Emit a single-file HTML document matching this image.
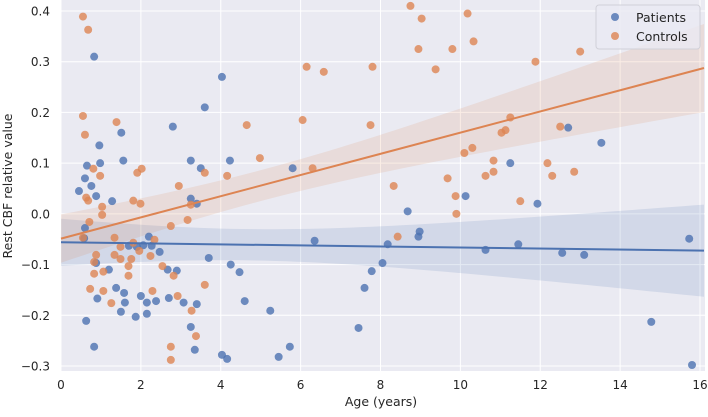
<!DOCTYPE html>
<html><head><meta charset="utf-8"><style>
body{margin:0;background:#fff;font-family:"Liberation Sans","DejaVu Sans",sans-serif;}
svg text{font-family:"DejaVu Sans","Liberation Sans",sans-serif;}
</style></head><body>
<svg id="chart" width="708" height="412" xmlns="http://www.w3.org/2000/svg">
<rect x="61" y="0" width="644" height="371" fill="#eaeaf2"/>
<g id="grid"></g>
<g id="bands"></g>
<g id="pts"></g>
<g id="lines"></g>
<g id="ticks"></g>
<text x="381" y="406" font-size="12.5" fill="#262626" text-anchor="middle">Age (years)</text>
<text transform="translate(12,186) rotate(-90)" font-size="12.5" fill="#262626" text-anchor="middle">Rest CBF relative value</text>
<g>
<rect x="596" y="5" width="104" height="44" rx="3" fill="#eaeaf2" fill-opacity="0.8" stroke="#d0d0d8"/>
<circle cx="615" cy="17" r="4" fill="#4c72b0" fill-opacity="0.8"/>
<text x="636" y="22" font-size="12.5" fill="#262626">Patients</text>
<circle cx="615" cy="36" r="4" fill="#dd8452" fill-opacity="0.8"/>
<text x="636" y="41" font-size="12.5" fill="#262626">Controls</text>
</g>
</svg>
<script>
const xTicks=[0,2,4,6,8,10,12,14,16];
const yTicks=[0.4,0.3,0.2,0.1,0.0,-0.1,-0.2,-0.3];
const yTickLabels=["0.4","0.3","0.2","0.1","0.0","\u22120.1","\u22120.2","\u22120.3"];
const patientAge=[0.83,4.03,3.6,1.51,0.96,1.56,3.25,4.23,0.65,0.98,0.45,0.6,0.76,0.88,1.28,3.5,3.25,3.4,5.8,8.68,8.98,8.95,10.13,11.25,11.93,12.7,13.53,6.35,8.18,0.6,0.58,2.2,2.27,2.47,2.06,1.7,1.9,3.7,4.25,4.47,0.88,1.2,2.67,2.9,7.78,8.05,7.6,1.38,1.58,1.6,0.91,2.0,2.15,2.38,2.7,3.07,3.4,1.5,1.87,2.15,4.6,5.24,0.63,3.25,7.45,0.83,3.35,4.03,4.16,5.45,5.73,10.63,11.45,12.55,13.1,14.78,15.73,15.8,2.8];
const patientVal=[0.31,0.27,0.21,0.16,0.135,0.105,0.105,0.105,0.095,0.10,0.045,0.07,0.055,0.035,0.025,0.09,0.03,0.02,0.09,0.005,-0.035,-0.045,0.035,0.10,0.02,0.17,0.14,-0.053,-0.06,-0.028,-0.048,-0.045,-0.063,-0.075,-0.062,-0.063,-0.065,-0.087,-0.1,-0.115,-0.097,-0.11,-0.11,-0.112,-0.113,-0.097,-0.146,-0.146,-0.156,-0.175,-0.167,-0.162,-0.175,-0.172,-0.166,-0.175,-0.178,-0.193,-0.203,-0.197,-0.172,-0.191,-0.211,-0.223,-0.225,-0.262,-0.268,-0.278,-0.286,-0.282,-0.262,-0.071,-0.06,-0.077,-0.081,-0.213,-0.049,-0.298,0.172];
const controlAge=[0.55,0.68,0.55,0.6,1.39,0.81,0.98,1.91,2.02,2.95,3.6,4.16,0.63,0.68,1.03,1.03,0.71,0.55,1.34,1.49,1.81,1.99,1.81,1.96,2.34,2.24,1.34,1.49,1.76,1.69,1.69,0.88,0.83,0.83,1.06,0.73,1.06,1.26,2.29,2.54,2.82,2.92,3.27,3.38,2.75,2.75,3.6,2.75,3.17,3.25,4.65,4.98,6.05,6.15,6.3,6.58,7.75,7.8,8.33,8.43,8.75,9.03,8.95,9.38,9.68,9.8,9.88,9.9,10.1,10.18,10.3,10.33,10.63,10.83,10.83,11.03,11.13,11.25,11.5,11.88,12.18,12.3,12.5,12.85,13.0];
const controlVal=[0.389,0.363,0.193,0.156,0.181,0.089,0.075,0.081,0.089,0.055,0.081,0.075,0.032,0.026,0.014,-0.002,-0.016,-0.047,-0.047,-0.065,0.026,0.020,-0.057,-0.073,-0.051,-0.083,-0.081,-0.089,-0.089,-0.103,-0.122,-0.081,-0.095,-0.118,-0.114,-0.148,-0.152,-0.176,-0.152,-0.103,-0.122,-0.162,-0.191,-0.241,-0.262,-0.288,-0.140,-0.024,-0.012,0.018,0.175,0.11,0.185,0.29,0.09,0.28,0.175,0.29,0.055,-0.045,0.41,0.385,0.325,0.285,0.07,0.325,0.035,0.0,0.12,0.395,0.13,0.34,0.075,0.105,0.083,0.16,0.165,0.19,0.025,0.30,0.1,0.075,0.172,0.083,0.32];

const NS="http://www.w3.org/2000/svg";
const X0=61,X1=700,Y0=11,Y1=366;
function xs(v){return X0+v*(X1-X0)/16;}
function ys(v){return Y0+(0.4-v)*(Y1-Y0)/0.7;}
function mk(tag,attrs,parent){const e=document.createElementNS(NS,tag);for(const k in attrs)e.setAttribute(k,attrs[k]);parent.appendChild(e);return e;}
const grid=document.getElementById('grid'),ticks=document.getElementById('ticks');
xTicks.forEach(t=>{
  const l=mk('line',{x1:xs(t),x2:xs(t),y1:0,y2:371,stroke:'#fff','stroke-width':1},grid);
  
  
  const tx=mk('text',{x:xs(t),y:389,'font-size':12,fill:'#262626','text-anchor':'middle'},ticks);
  tx.textContent=t;
  
  
});
yTicks.forEach((t,i)=>{
  const l=mk('line',{x1:61,x2:705,y1:ys(t),y2:ys(t),stroke:'#fff','stroke-width':1},grid);
  
  
  const tx=mk('text',{x:50,y:ys(t)+4.5,'font-size':12,fill:'#262626','text-anchor':'end'},ticks);
  tx.textContent=yTickLabels[i];
  
  
});
function fit(xa,ya){
  const n=xa.length;let mx=0,my=0;for(let i=0;i<n;i++){mx+=xa[i];my+=ya[i];}mx/=n;my/=n;
  let sxx=0,sxy=0;for(let i=0;i<n;i++){sxx+=(xa[i]-mx)**2;sxy+=(xa[i]-mx)*(ya[i]-my);}
  const b=sxy/sxx,a=my-b*mx;let sse=0;for(let i=0;i<n;i++)sse+=(ya[i]-a-b*xa[i])**2;
  const s=Math.sqrt(sse/(n-2));return {a,b,s,n,mx,sxx};
}
function drawSeries(xa,ya,color,name){
  const f=fit(xa,ya);
  const xmin=0,xmax=16.1,N=60;let up=[],dn=[];
  for(let k=0;k<=N;k++){const x=xmin+(xmax-xmin)*k/N;const yv=f.a+f.b*x;
    const se=f.s*Math.sqrt(1/f.n+(x-f.mx)**2/f.sxx)*1.96;
    up.push(xs(x)+','+ys(yv+se));dn.unshift(xs(x)+','+ys(yv-se));}
  const band=mk('polygon',{points:up.concat(dn).join(' '),fill:color,'fill-opacity':0.15},document.getElementById('bands'));
  
  
  const pg=document.getElementById('pts');
  for(let i=0;i<xa.length;i++){
    const c=mk('circle',{cx:xs(xa[i]),cy:ys(ya[i]),r:4,fill:color,'fill-opacity':0.8},pg);
    
    
  }
  const ln=mk('line',{x1:xs(xmin),y1:ys(f.a+f.b*xmin),x2:xs(xmax),y2:ys(f.a+f.b*xmax),stroke:color,'stroke-width':2},document.getElementById('lines'));
  
  
}
drawSeries(patientAge,patientVal,'#4c72b0','patients');
drawSeries(controlAge,controlVal,'#dd8452','controls');
</script>
</body></html>
